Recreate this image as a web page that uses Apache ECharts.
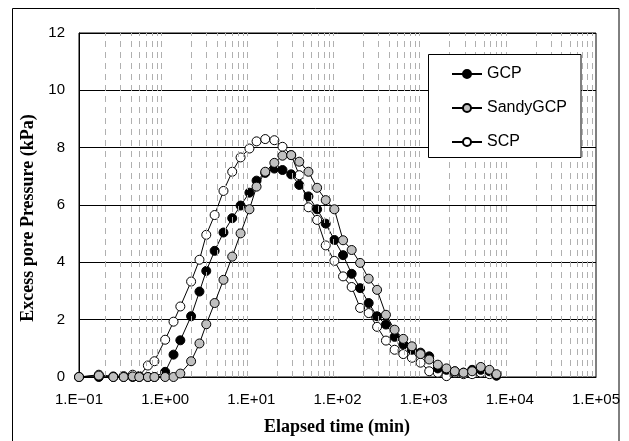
<!DOCTYPE html>
<html>
<head>
<meta charset="utf-8">
<script src="https://cdn.jsdelivr.net/npm/echarts@6/dist/echarts.min.js"></script>
<style>
html,body{margin:0;padding:0;background:#fff;}
#chart{width:629px;height:441px;}
</style>
</head>
<body>
<div id="chart"></div>
<script>
// Elapsed time (min) shared by all series
const times = [0.1, 0.17, 0.25, 0.33, 0.42, 0.5, 0.63, 0.75, 1, 1.25, 1.5, 2, 2.5, 3, 3.75, 4.75, 6, 7.5, 9.5, 11.5, 14.5, 18.5, 23, 29, 36, 46, 58, 73, 92, 116, 146, 183, 230, 288, 365, 460, 580, 730, 920, 1160, 1460, 1840, 2300, 2900, 3650, 4600, 5800, 7000];
// Excess pore pressure (kPa)
const gcp = [0, 0, 0, 0, 0, 0, 0, 0, 0.18, 0.78, 1.28, 2.12, 2.98, 3.70, 4.40, 5.04, 5.54, 5.98, 6.43, 6.85, 7.12, 7.27, 7.22, 7.07, 6.70, 6.30, 5.85, 5.35, 4.78, 4.25, 3.60, 3.10, 2.58, 2.12, 1.83, 1.40, 1.13, 0.95, 0.85, 0.72, 0.30, 0.25, 0.20, 0.15, 0.25, 0.25, 0.20, 0.05];
const sandyGcp = [0, 0.05, 0, 0, 0.02, 0, 0, 0, 0, 0, 0.12, 0.55, 1.17, 1.84, 2.58, 3.39, 4.20, 5.01, 5.85, 6.64, 7.16, 7.47, 7.72, 7.74, 7.51, 7.16, 6.60, 6.17, 5.85, 4.77, 4.43, 3.98, 3.43, 3.04, 2.17, 1.65, 1.33, 1.07, 0.80, 0.61, 0.43, 0.30, 0.20, 0.15, 0.20, 0.35, 0.25, 0.10];
const scp = [0, 0.08, 0.02, 0.03, 0.08, 0.03, 0.40, 0.55, 1.30, 1.93, 2.46, 3.33, 4.09, 4.96, 5.65, 6.49, 7.16, 7.66, 7.97, 8.22, 8.30, 8.26, 8.03, 7.74, 7.04, 5.92, 5.48, 4.59, 4.05, 3.51, 3.14, 2.41, 2.23, 1.75, 1.27, 0.95, 0.80, 0.67, 0.50, 0.20, 0.15, 0.03, 0.15, 0.10, 0.10, 0.15, 0.10, 0.05];
const seriesNames = ['GCP', 'SandyGCP', 'SCP'];
const yTicks = [0, 2, 4, 6, 8, 10, 12];
const decades = [-1, 0, 1, 2, 3, 4];
const minorMultipliers = [2, 3, 4, 5, 6, 7, 8, 9];

const minorLines = [];
decades.forEach(d => minorMultipliers.forEach(m => minorLines.push({ xAxis: m * Math.pow(10, d) })));

function pairs(vals) { return times.map((t, i) => [t, vals[i]]); }
function lineSeries(name, vals, fill, z) {
  return {
    name: name, type: 'line', data: pairs(vals), z: z,
    symbol: 'circle', symbolSize: 9, showAllSymbol: true,
    lineStyle: { color: '#000', width: 1 },
    itemStyle: { color: fill, borderColor: '#000', borderWidth: 1 },
    emphasis: { disabled: true }
  };
}

const chart = echarts.init(document.getElementById('chart'), null, { renderer: 'canvas' });
chart.setOption({
  animation: false,
  backgroundColor: '#fff',
  textStyle: { fontFamily: 'Liberation Sans, Arial, sans-serif' },
  grid: { left: 79, right: 33, top: 33, bottom: 64, show: true, borderColor: '#000', borderWidth: 1 },
  xAxis: {
    type: 'log', logBase: 10, min: 0.1, max: 100000, splitNumber: 6,
    axisLine: { show: true, lineStyle: { color: '#000', width: 1 } },
    axisTick: { show: false },
    splitLine: { show: false },
    axisLabel: {
      color: '#000', fontSize: 15, margin: 15,
      formatter: function (v) {
        const e = Math.round(Math.log10(v));
        return '1.E' + (e < 0 ? '\u2212' : '+') + String(Math.abs(e)).padStart(2, '0');
      }
    }
  },
  yAxis: {
    type: 'value', min: yTicks[0], max: yTicks[yTicks.length - 1], interval: 2,
    axisLine: { show: true, lineStyle: { color: '#000', width: 1 } },
    axisTick: { show: false },
    splitLine: { show: true, lineStyle: { color: '#000', width: 1 } },
    axisLabel: { color: '#000', fontSize: 15, margin: 14 }
  },
  legend: {
    data: seriesNames, orient: 'vertical', left: 446, top: 61, z: 120,
    itemWidth: 30, itemHeight: 10, itemGap: 18,
    textStyle: { color: '#000', fontSize: 16, fontFamily: 'Liberation Sans, Arial, sans-serif' }
  },
  graphic: [
    { type: 'rect', z: 100, shape: { x: 12.5, y: 8.5, width: 606.5, height: 445 }, style: { fill: 'none', stroke: '#000', lineWidth: 1 } },
    { type: 'rect', z: 90, shape: { x: 428.5, y: 54.5, width: 152.5, height: 103 }, style: { fill: '#fff', stroke: '#000', lineWidth: 1 } },
    { type: 'text', z: 100, x: 337, y: 427, style: { text: 'Elapsed time (min)', font: 'bold 18px "Liberation Serif", "Times New Roman", serif', fill: '#000', textAlign: 'center', textVerticalAlign: 'middle' } },
    { type: 'text', z: 100, x: 28, y: 218, rotation: Math.PI / 2, style: { text: 'Excess pore Pressure (kPa)', font: 'bold 18px "Liberation Serif", "Times New Roman", serif', fill: '#000', textAlign: 'center', textVerticalAlign: 'middle' } }
  ],
  series: [
    {
      name: 'grid-minor', type: 'line', data: [], z: 1, silent: true,
      markLine: {
        silent: true, symbol: ['none', 'none'], label: { show: false },
        lineStyle: { color: '#b0b0b0', width: 1, type: [6, 5] },
        emphasis: { disabled: true },
        data: minorLines
      }
    },
    lineSeries('SCP', scp, '#fff', 3),
    lineSeries('GCP', gcp, '#000', 4),
    lineSeries('SandyGCP', sandyGcp, '#c0c0c0', 5)
  ]
});
</script>
</body>
</html>
